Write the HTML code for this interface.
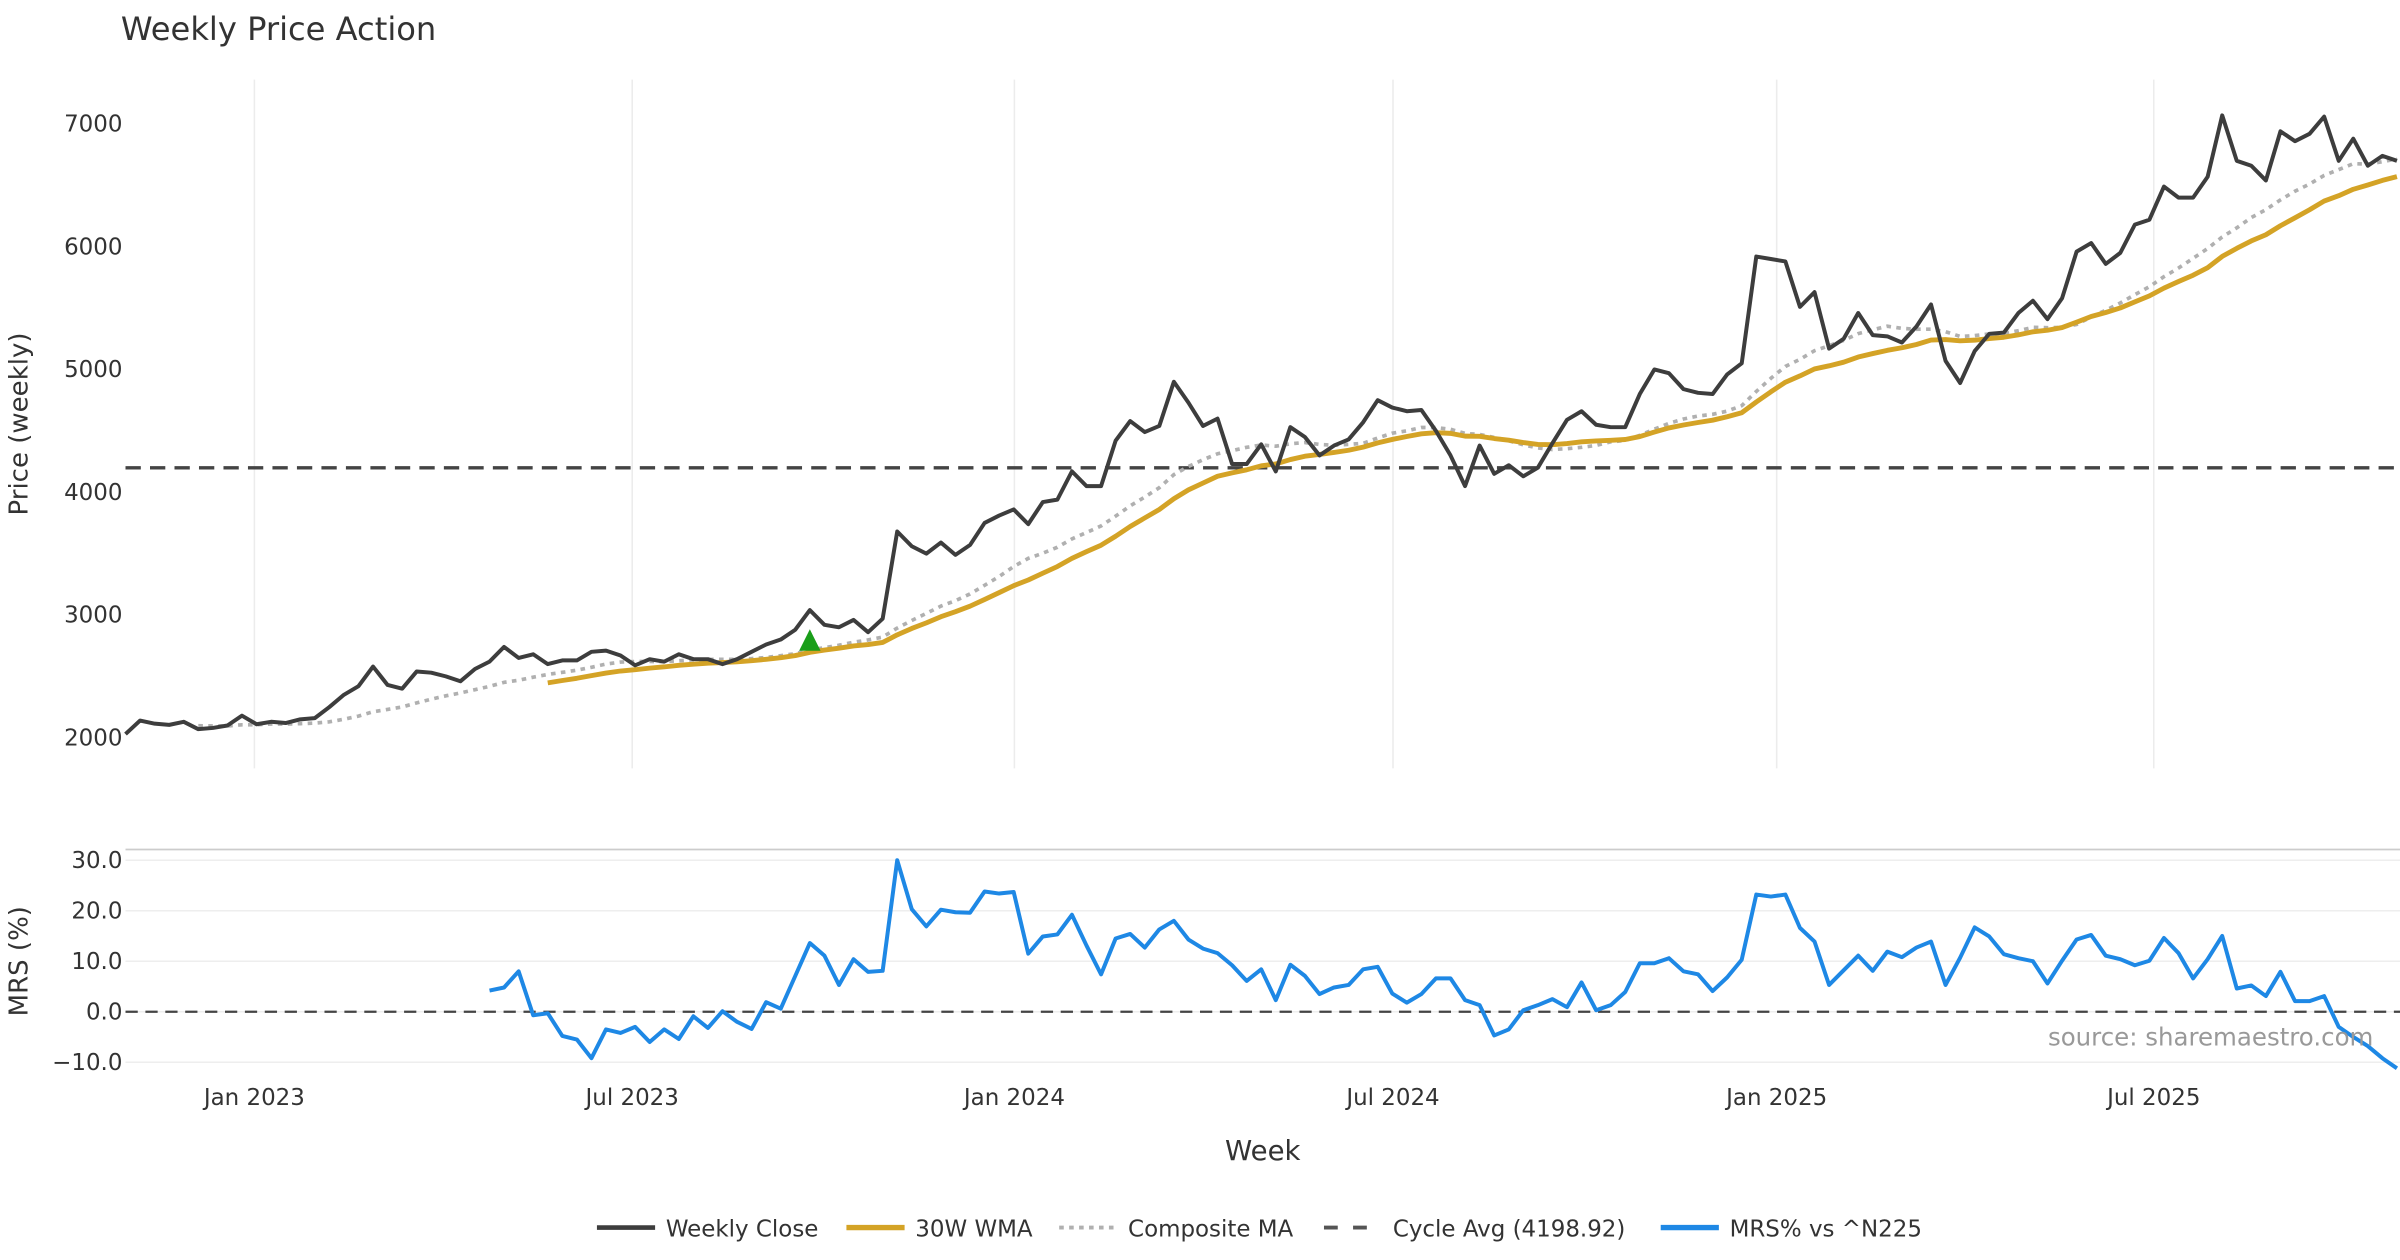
<!DOCTYPE html>
<html><head><meta charset="utf-8"><title>Weekly Price Action</title>
<style>
html,body{margin:0;padding:0;background:#fff;}
svg{display:block;font-family:"DejaVu Sans","Liberation Sans",sans-serif;}
</style></head>
<body>
<svg id="chart" width="2400" height="1260" viewBox="0 0 1568 823.2" xmlns="http://www.w3.org/2000/svg">
<rect width="1568" height="823.2" fill="#fff"/>
<text x="79" y="26" font-size="21" fill="#333">Weekly Price Action</text>
<text transform="translate(18,277) rotate(-90)" text-anchor="middle" font-size="17" fill="#333">Price (weekly)</text>
<text transform="translate(18,628) rotate(-90)" text-anchor="middle" font-size="17" fill="#333">MRS (%)</text>
<text x="825" y="758" text-anchor="middle" font-size="18" fill="#333">Week</text>
<line x1="82" y1="555" x2="1568" y2="555" stroke="#ccc" stroke-width="1.2"/>
<g id="grid"></g>
<g id="ticks"></g>
<g id="series"></g>
<text x="1338" y="683" font-size="16" fill="#999">source: sharemaestro.com</text>
<g id="legend"></g>
</svg>
<script>
const closes = [2030,2140,2115,2105,2130,2070,2080,2100,2180,2110,2130,2120,2150,2160,2250,2350,2420,2580,2430,2400,2540,2530,2500,2460,2560,2620,2740,2650,2680,2600,2630,2630,2700,2710,2670,2590,2640,2620,2680,2640,2640,2600,2640,
2700,2760,2800,2880,3040,2920,2900,2960,2860,2970,3680,3560,3500,3590,3490,3570,3750,3810,3860,3740,3920,3940,4170,4050,4050,4420,4580,4490,4540,4900,
4730,4540,4600,4230,4230,4390,4170,4530,4450,4300,4380,4430,4570,4750,4690,4660,4670,4500,4300,4050,4380,4150,4220,4130,4200,4400,4590,4660,4550,4530,
4530,4800,5000,4970,4840,4810,4800,4960,5050,5920,5900,5880,5510,5630,5170,5250,5460,5280,5270,5220,5350,5530,5070,4890,5150,5290,5300,5460,5560,5410,
5580,5960,6030,5860,5950,6180,6220,6490,6400,6400,6570,7070,6700,6660,6540,6940,6860,6920,7060,6700,6880,6660,6740,6700];
const mrsStart = 25;
const mrsValues = [4.2,4.8,8,-0.7,-0.3,-4.8,-5.5,-9.2,-3.5,-4.2,-3,-6,-3.5,-5.4,-0.9,-3.2,0.1,-2,-3.4,1.9,0.6,7.1,13.6,11.1,5.3,10.4,7.9,8.1,30,20.3,16.9,20.2,19.7,19.6,23.8,23.4,23.7,11.5,14.9,15.3,19.2,13.1,7.4,14.5,15.4,12.7,16.3,18,14.3,12.5,11.6,9.2,6.1,8.4,2.3,9.3,7.1,3.5,4.8,5.3,8.4,8.9,3.6,1.8,
3.5,6.6,6.6,2.3,1.3,-4.7,-3.5,0.3,1.3,2.5,0.9,5.8,0.3,1.3,3.9,9.6,9.6,10.6,8,7.4,4.1,6.8,10.3,23.2,22.8,23.2,16.6,13.9,5.3,8.2,11.1,8.1,11.9,10.8,12.7,13.9,5.3,10.7,16.7,14.9,11.4,10.6,10,5.6,10.1,14.3,15.2,11.1,10.4,9.2,10.1,14.6,11.6,6.6,10.4,15,4.6,5.2,3.1,7.9,2.1,2.1,3.1,-3,-5,-6.8,-9.2,-11.2];
const cycleAvg = 4198.92;
const signalWeeks = [47];
const priceTicks = [2000,3000,4000,5000,6000,7000];
const mrsTicks = [30,20,10,0,-10];
const mrsTickLabels = ["30.0","20.0","10.0","0.0","\u221210.0"];
const dateLabels = ["Jan 2023","Jul 2023","Jan 2024","Jul 2024","Jan 2025","Jul 2025"];
const dateWeekPos = [8.85,34.8,61.05,87.05,113.4,139.3];

const NS="http://www.w3.org/2000/svg";
const n = closes.length;
const X0=82, X1=1566;
const x = i => X0 + i*(X1-X0)/(n-1);
const yP = p => 482 - (p-2000)*0.0802;
const yM = v => 661 - v*3.3;
function mk(tag, attrs, parent){const e=document.createElementNS(NS,tag);for(const k in attrs)e.setAttribute(k,attrs[k]);parent.appendChild(e);return e;}
const grid=document.getElementById('grid'), ticks=document.getElementById('ticks'), series=document.getElementById('series'), legend=document.getElementById('legend');

function sma(i,w){const s=Math.max(0,i-w+1);let t=0;for(let k=s;k<=i;k++)t+=closes[k];return t/(i-s+1);}
const wma=closes.map((c,i)=>{if(i<29)return null;let t=0,ws=0;for(let k=0;k<30;k++){const w=30-k;t+=closes[i-k]*w;ws+=w;}return t/ws;});
const comp=closes.map((c,i)=>i<5?null:(sma(i,10)+sma(i,20))/2);

dateWeekPos.forEach((w,j)=>{
  const gl=mk('line',{x1:x(w),x2:x(w),y1:52,y2:502,stroke:'#ececec','stroke-width':1},grid);
  
  
  const t=mk('text',{x:x(w),y:722,'text-anchor':'middle','font-size':15,fill:'#333'},ticks);
  t.textContent=dateLabels[j];
  
  
});
priceTicks.forEach(p=>{
  const t=mk('text',{x:80,y:yP(p)+5,'text-anchor':'end','font-size':15,fill:'#333'},ticks);
  t.textContent=p;
  
  
});
mrsTicks.forEach((v,j)=>{
  const gl=mk('line',{x1:82,x2:1568,y1:yM(v),y2:yM(v),stroke:'#eeeeee','stroke-width':1},grid);
  
  
  const t=mk('text',{x:80,y:yM(v)+5,'text-anchor':'end','font-size':15,fill:'#333'},ticks);
  t.textContent=mrsTickLabels[j];
  
  
});

function path(vals, yf, attrs, name, offset){
  let d='';let started=false;
  vals.forEach((v,i)=>{if(v==null)return;const xi=x(i+(offset||0));d+=(started?'L':'M')+xi.toFixed(2)+','+yf(v).toFixed(2);started=true;});
  const p=mk('path',Object.assign({d:d,fill:'none','stroke-linejoin':'round'},attrs),series);
  
  
  return p;
}
const cy=mk('line',{x1:82,x2:1568,y1:yP(cycleAvg),y2:yP(cycleAvg),stroke:'#444','stroke-width':2.2,'stroke-dasharray':'10,6'},series);


path(comp,yP,{stroke:'#b0b0b0','stroke-width':2.4,'stroke-dasharray':'3,3.5'},'composite-ma-line');
path(wma,yP,{stroke:'#d4a326','stroke-width':3.2},'wma-30w-line');
path(closes,yP,{stroke:'#3d3d3d','stroke-width':2.6},'weekly-close-line');
signalWeeks.forEach(i=>{
  const xv=x(i), yv=yP(wma[i]!=null?wma[i]+100:closes[i]-240);
  const t=mk('polygon',{points:`${xv-7},${yv+7} ${xv+7},${yv+7} ${xv},${yv-7}`,fill:'#1a9e1a'},series);
  
  
});
const z=mk('line',{x1:82,x2:1568,y1:yM(0),y2:yM(0),stroke:'#444','stroke-width':1.5,'stroke-dasharray':'8,5'},series);


path(mrsValues,yM,{stroke:'#1e88e5','stroke-width':2.6},'mrs-line',mrsStart);

const items=[
  {x:390,label:'Weekly Close',stroke:'#3d3d3d',dash:null,w:3,name:'legend-weekly-close'},
  {x:553,label:'30W WMA',stroke:'#d4a326',dash:null,w:3.5,name:'legend-wma'},
  {x:692,label:'Composite MA',stroke:'#b0b0b0',dash:'3,3.5',w:2.5,name:'legend-composite-ma'},
  {x:865,label:'Cycle Avg (4198.92)',stroke:'#555',dash:'9,10',w:2.5,name:'legend-cycle-avg'},
  {x:1085,label:'MRS% vs ^N225',stroke:'#1e88e5',dash:null,w:3.5,name:'legend-mrs'}
];
items.forEach(it=>{
  const g=mk('g',{},legend);
  
  
  const a={x1:it.x,x2:it.x+38,y1:802,y2:802,stroke:it.stroke,'stroke-width':it.w};
  if(it.dash)a['stroke-dasharray']=it.dash;
  mk('line',a,g);
  const t=mk('text',{x:it.x+45,y:808,'font-size':15,fill:'#333'},g);
  t.textContent=it.label;
});
</script>
</body></html>
